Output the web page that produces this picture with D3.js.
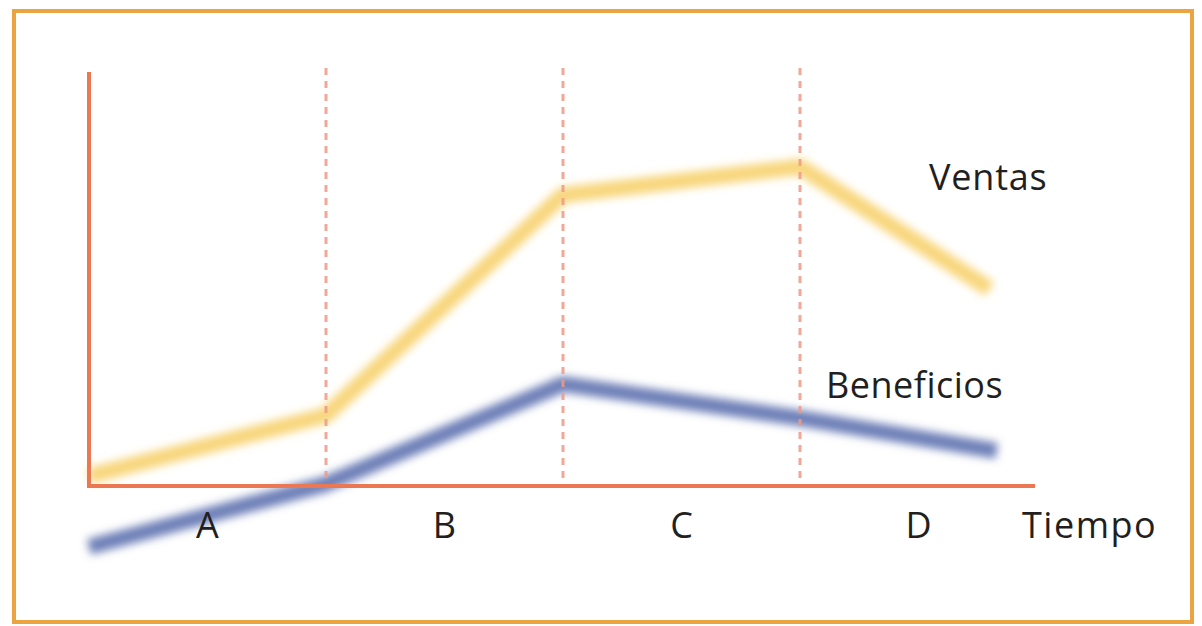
<!DOCTYPE html>
<html>
<head>
<meta charset="utf-8">
<script src="https://cdn.jsdelivr.net/npm/d3@7"></script>
<style>
  html, body { margin: 0; padding: 0; background: #fff; }
  svg { display: block; }
  text { font-family: "Open Sans", "Noto Sans", sans-serif; fill: #231f20; }
</style>
</head>
<body>
<svg id="chart" width="1202" height="626"></svg>
<script>
// Stages of the product life cycle along the time axis
const stages = ["A", "B", "C", "D"];
const stageBounds = [1, 2, 3];          // dashed separators between stages

// Time positions of the sketched points (in stage units)
const timePoints = [0.0, 1.0, 2.0, 3.0, 3.8];

// Sales and profit curves (arbitrary units, 0 = time axis)
const ventas     = [2.4, 17.1, 70.3, 77.1, 47.6];
const beneficios = [-14.7, 0.5, 24.6, 16.4, 8.5];
const beneficiosTime = [0.0, 1.0, 2.0, 3.0, 3.83];

const seriesLabels = { ventas: "Ventas", beneficios: "Beneficios", tiempo: "Tiempo" };

const svg = d3.select("#chart");

const x = d3.scaleLinear().domain([0, 4]).range([89, 1037]);
const y = d3.scaleLinear().domain([0, 100]).range([486, 72]);

// Frame around the figure
svg.append("rect")
  .attr("x", 14).attr("y", 11)
  .attr("width", 1178).attr("height", 611)
  .attr("fill", "none")
  .attr("stroke", "#eba43f")
  .attr("stroke-width", 4);

// Soft blur for the hand-drawn curves
const defs = svg.append("defs");
defs.append("filter").attr("id", "soft")
  .attr("x", "-10%").attr("y", "-30%").attr("width", "120%").attr("height", "160%")
  .append("feGaussianBlur").attr("stdDeviation", 4);

const line = d3.line().x(d => x(d[0])).y(d => y(d[1]));

svg.append("path")
  .datum(d3.zip(timePoints, ventas))
  .attr("d", line)
  .attr("fill", "none")
  .attr("stroke", "#f8d67c")
  .attr("stroke-width", 16)
  .attr("stroke-linejoin", "round")
  .attr("filter", "url(#soft)");

svg.append("path")
  .datum(d3.zip(beneficiosTime, beneficios))
  .attr("d", line)
  .attr("fill", "none")
  .attr("stroke", "#6e80b8")
  .attr("stroke-width", 16)
  .attr("stroke-linejoin", "round")
  .attr("filter", "url(#soft)");

// Dashed stage separators
svg.append("g").selectAll("line")
  .data(stageBounds)
  .join("line")
  .attr("x1", d => x(d)).attr("x2", d => x(d))
  .attr("y1", 68).attr("y2", 486)
  .attr("stroke", "#ef9a86")
  .attr("stroke-width", 3)
  .attr("stroke-dasharray", "7,6")
  .attr("opacity", 0.85);

// Axes
svg.append("line")
  .attr("x1", x(0)).attr("x2", x(0))
  .attr("y1", y(100)).attr("y2", y(0) + 2)
  .attr("stroke", "#ec7753").attr("stroke-width", 4);

svg.append("line")
  .attr("x1", x(0) - 2).attr("x2", x(4) - 2)
  .attr("y1", y(0)).attr("y2", y(0))
  .attr("stroke", "#ec7753").attr("stroke-width", 4);

// Stage letters centred in each band
svg.append("g").selectAll("text")
  .data(stages)
  .join("text")
  .attr("x", (d, i) => x(i + 0.5))
  .attr("y", 538)
  .attr("text-anchor", "middle")
  .attr("font-size", 36)
  .text(d => d);

svg.append("text")
  .attr("x", 1022).attr("y", 538)
  .attr("font-size", 36)
  .attr("letter-spacing", 1.5)
  .text(seriesLabels.tiempo);

svg.append("text")
  .attr("x", 929).attr("y", 190)
  .attr("font-size", 36)
  .attr("letter-spacing", 0.8)
  .text(seriesLabels.ventas);

svg.append("text")
  .attr("x", 826).attr("y", 398)
  .attr("font-size", 36)
  .attr("letter-spacing", 0.5)
  .text(seriesLabels.beneficios);
</script>
</body>
</html>
